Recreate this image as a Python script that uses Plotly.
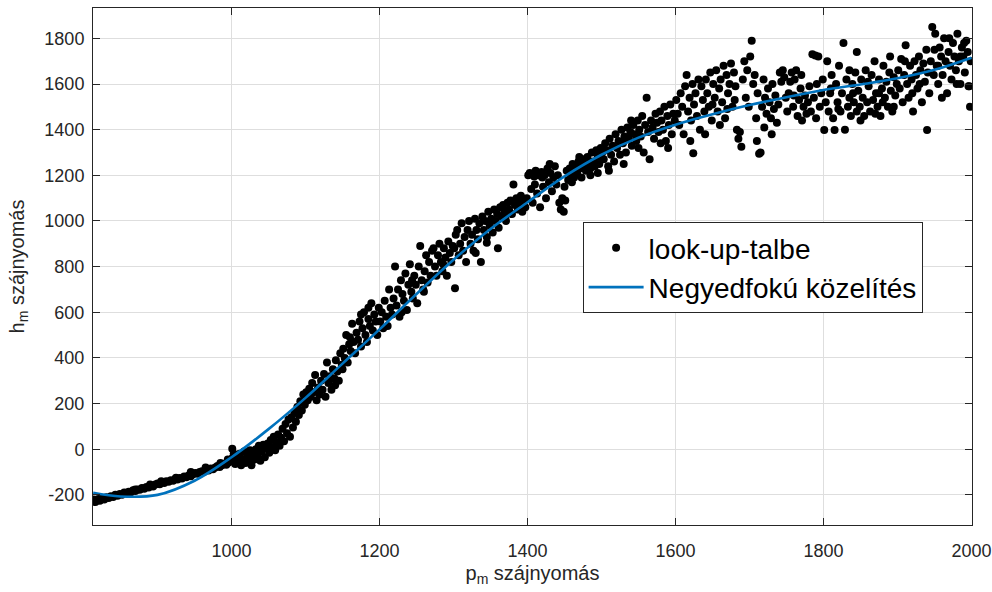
import plotly.graph_objects as go

# ---- data (p_m, h_m) ----
seg_0800_1000 = [(813,-228),(814,-220),(816,-231),(818,-224),(820,-218),(822,-226),(825,-215),(828,-220),(831,-210),(834,-214),(837,-206),(840,-209),(843,-200),(846,-204),(849,-196),(852,-199),(855,-190),(858,-193),(861,-186),(864,-189),(867,-180),(870,-183),(873,-176),(876,-178),(879,-170),(882,-173),(885,-165),(888,-168),(891,-160),(894,-163),(897,-155),(900,-150),(903,-153),(906,-145),(909,-148),(912,-140),(915,-143),(918,-136),(921,-138),(924,-130),(927,-133),(930,-126),(933,-128),(936,-120),(939,-123),(942,-115),(945,-118),(948,-110),(951,-104),(954,-108),(957,-100),(960,-96),(963,-99),(966,-90),(969,-93),(972,-85),(975,-88),(978,-80),(981,-74),(984,-78),(987,-70),(990,-64),(993,-68),(996,-58),(999,-50),(1001,-40),(1003,-20),(1001,2),(995,-45),(985,-60),(965,-80),(945,-100),(925,-125),(905,-140),(890,-155),(870,-176)]
seg_1000_1110 = [(1005,-65),(1007,-35),(1009,-55),(1011,-20),(1013,-70),(1015,-45),(1017,-10),(1019,-60),(1021,-30),(1023,-50),(1025,-5),(1027,-70),(1029,-25),(1031,-45),(1033,0),(1035,-30),(1037,15),(1039,-50),(1041,-10),(1043,20),(1045,-35),(1047,5),(1049,25),(1051,-15),(1053,40),(1055,10),(1057,55),(1059,-5),(1061,30),(1063,65),(1065,15),(1067,50),(1069,90),(1071,35),(1073,110),(1075,70),(1077,130),(1079,55),(1081,140),(1083,95),(1085,160),(1087,120),(1089,185),(1091,150),(1093,210),(1095,170),(1097,240),(1099,195),(1101,250),(1103,215),(1105,265),(1107,230),(1109,290)]
seg_1110_1200 = [(1111,250),(1113,325),(1115,215),(1117,270),(1119,240),(1121,300),(1123,260),(1125,330),(1127,230),(1129,380),(1131,290),(1133,320),(1135,260),(1137,350),(1139,310),(1141,390),(1143,340),(1145,300),(1147,420),(1149,370),(1151,440),(1153,400),(1155,500),(1157,380),(1159,460),(1161,430),(1163,550),(1165,470),(1167,420),(1169,510),(1171,480),(1173,560),(1175,450),(1177,530),(1179,600),(1181,500),(1183,470),(1185,570),(1187,540),(1189,640),(1191,520),(1193,590),(1195,560),(1197,500),(1199,620),(1185,620),(1175,590),(1160,490),(1150,350),(1140,280)]
seg_1200_1300 = [(1201,560),(1203,600),(1205,530),(1207,650),(1209,580),(1211,540),(1213,700),(1215,620),(1217,590),(1219,660),(1221,800),(1223,630),(1225,700),(1227,580),(1229,740),(1231,680),(1233,650),(1235,770),(1237,610),(1239,720),(1241,810),(1243,690),(1245,660),(1247,760),(1249,720),(1251,640),(1253,800),(1255,890),(1257,740),(1259,700),(1261,780),(1263,850),(1265,730),(1267,820),(1269,760),(1271,870),(1273,880),(1275,800),(1277,760),(1279,850),(1281,900),(1283,820),(1285,780),(1287,880),(1289,840),(1291,760),(1293,910),(1295,860),(1297,820),(1299,890),(1302,705),(1230,600),(1260,690),(1244,740),(1286,810)]
seg_1300_1400 = [(1301,880),(1303,940),(1305,960),(1307,850),(1309,900),(1311,990),(1313,870),(1315,930),(1317,820),(1319,960),(1321,1000),(1323,900),(1325,940),(1327,870),(1329,1010),(1331,960),(1333,920),(1335,990),(1337,820),(1339,1020),(1341,960),(1343,1000),(1345,930),(1347,1040),(1349,980),(1351,1010),(1353,950),(1355,1050),(1357,1000),(1359,1030),(1361,970),(1363,1060),(1365,1020),(1367,1070),(1369,1040),(1371,1000),(1373,1080),(1375,1050),(1377,1090),(1379,1030),(1381,1160),(1383,1070),(1385,1100),(1387,1050),(1389,1080),(1391,1110),(1393,1040),(1395,1090),(1397,1060),(1399,1100),(1360,880),(1345,905),(1370,1020),(1330,860)]
seg_1400_1500 = [(1401,1200),(1403,1210),(1405,1140),(1407,1080),(1409,1195),(1411,1220),(1413,1120),(1415,1200),(1417,1060),(1419,1215),(1421,1150),(1423,1200),(1425,1100),(1427,1230),(1429,1170),(1431,1210),(1433,1130),(1435,1190),(1437,1240),(1439,1160),(1441,1200),(1443,1080),(1445,1050),(1447,1100),(1449,1040),(1451,1090),(1453,1220),(1455,1180),(1457,1230),(1459,1200),(1461,1250),(1463,1190),(1465,1240),(1467,1210),(1469,1260),(1471,1230),(1473,1190),(1475,1270),(1477,1240),(1479,1220),(1481,1280),(1483,1250),(1485,1230),(1487,1300),(1489,1260),(1491,1240),(1493,1310),(1495,1280),(1497,1250),(1499,1320),(1410,1160),(1420,1190),(1430,1250),(1450,1150),(1460,1170),(1470,1280),(1485,1200),(1495,1210)]
seg_1500_1600 = [(1501,1300),(1503,1270),(1505,1340),(1507,1310),(1509,1240),(1511,1360),(1513,1290),(1515,1330),(1517,1260),(1519,1380),(1521,1320),(1523,1350),(1525,1290),(1527,1400),(1529,1340),(1531,1370),(1533,1300),(1535,1410),(1537,1360),(1539,1390),(1541,1330),(1543,1420),(1545,1380),(1547,1350),(1549,1440),(1551,1400),(1553,1370),(1555,1460),(1557,1300),(1559,1420),(1561,1540),(1563,1390),(1565,1270),(1567,1440),(1569,1410),(1571,1360),(1573,1470),(1575,1430),(1577,1390),(1579,1480),(1581,1440),(1583,1400),(1585,1500),(1587,1350),(1589,1460),(1591,1420),(1593,1510),(1595,1380),(1597,1470),(1599,1440),(1510,1220),(1530,1250),(1550,1320),(1540,1440),(1580,1340),(1590,1320)]
seg_1600_1700 = [(1601,1530),(1603,1470),(1605,1420),(1607,1560),(1609,1500),(1611,1380),(1613,1590),(1615,1640),(1617,1480),(1619,1540),(1621,1440),(1623,1600),(1624,1297),(1625,1510),(1627,1560),(1629,1460),(1631,1620),(1633,1400),(1635,1590),(1637,1530),(1639,1480),(1641,1620),(1643,1560),(1645,1500),(1647,1650),(1649,1440),(1651,1600),(1653,1540),(1655,1660),(1657,1480),(1659,1580),(1661,1620),(1663,1520),(1665,1680),(1667,1450),(1669,1640),(1671,1560),(1673,1600),(1675,1690),(1677,1500),(1679,1650),(1681,1590),(1683,1400),(1685,1360),(1687,1390),(1689,1325),(1691,1620),(1693,1700),(1695,1540),(1697,1660),(1699,1500),(1701,1720),(1703,1790),(1660,1420),(1640,1380),(1620,1350),(1670,1490),(1680,1530),(1650,1510)]
seg_1700_1800 = [(1705,1600),(1707,1640),(1709,1450),(1711,1560),(1713,1295),(1715,1300),(1717,1500),(1719,1620),(1721,1540),(1723,1470),(1725,1580),(1727,1520),(1729,1450),(1731,1600),(1733,1490),(1735,1550),(1737,1430),(1739,1510),(1741,1650),(1743,1610),(1745,1660),(1747,1630),(1749,1540),(1751,1480),(1753,1560),(1755,1610),(1757,1650),(1759,1500),(1761,1620),(1763,1660),(1765,1460),(1767,1530),(1769,1580),(1771,1440),(1773,1500),(1775,1550),(1777,1470),(1779,1520),(1781,1590),(1783,1480),(1785,1730),(1787,1540),(1789,1725),(1791,1600),(1793,1720),(1795,1500),(1797,1560),(1799,1620),(1720,1410),(1730,1380),(1710,1350),(1760,1550),(1790,1450),(1770,1640)]
seg_1800_1900 = [(1801,1398),(1803,1520),(1805,1700),(1807,1480),(1809,1560),(1811,1640),(1813,1450),(1815,1398),(1817,1600),(1819,1520),(1821,1680),(1823,1480),(1825,1560),(1827,1780),(1829,1400),(1831,1620),(1833,1500),(1835,1540),(1837,1460),(1839,1600),(1841,1520),(1843,1650),(1845,1480),(1847,1570),(1849,1500),(1851,1620),(1853,1540),(1855,1460),(1857,1660),(1859,1520),(1861,1590),(1863,1480),(1865,1640),(1867,1530),(1869,1700),(1871,1560),(1873,1500),(1875,1620),(1877,1460),(1879,1580),(1881,1680),(1883,1540),(1885,1610),(1887,1500),(1889,1650),(1891,1570),(1893,1480),(1895,1630),(1897,1550),(1899,1600),(1810,1580),(1820,1490),(1840,1560),(1850,1440),(1860,1610),(1870,1470),(1880,1520),(1890,1720),(1845,1740),(1835,1660),(1875,1560),(1895,1500)]
seg_1900_2000 = [(1901,1660),(1903,1580),(1905,1710),(1907,1520),(1909,1640),(1911,1770),(1913,1600),(1915,1540),(1917,1680),(1919,1620),(1921,1480),(1923,1700),(1925,1640),(1927,1580),(1929,1720),(1931,1660),(1933,1520),(1935,1690),(1937,1610),(1939,1750),(1940,1398),(1941,1650),(1943,1560),(1945,1700),(1947,1850),(1949,1640),(1951,1820),(1953,1680),(1955,1600),(1957,1760),(1959,1720),(1961,1640),(1963,1800),(1965,1700),(1967,1560),(1969,1740),(1971,1680),(1973,1620),(1975,1780),(1977,1720),(1979,1660),(1981,1820),(1983,1700),(1985,1600),(1987,1760),(1989,1720),(1991,1650),(1993,1790),(1995,1740),(1997,1590),(1999,1700),(1998,1500),(1996,1590),(1920,1560),(1930,1600),(1950,1750),(1960,1540),(1970,1800),(1980,1600),(1990,1780),(1910,1700),(1955,1680),(1985,1720)]

# fourth-order fit curve
fit_p = [813, 850, 900, 950, 1000, 1050, 1100, 1150, 1200, 1250, 1300, 1350, 1400,
         1450, 1500, 1550, 1600, 1650, 1700, 1750, 1800, 1850, 1900, 1950, 2000]
fit_h = [-191, -207, -200, -138, -35, 88, 225, 375, 525, 680, 830, 965, 1082,
         1195, 1290, 1365, 1422, 1468, 1508, 1542, 1574, 1598, 1625, 1662, 1715]

x_ticks = [1000, 1200, 1400, 1600, 1800, 2000]
y_ticks = [-200, 0, 200, 400, 600, 800, 1000, 1200, 1400, 1600, 1800]
x_tick_labels = ["1000", "1200", "1400", "1600", "1800", "2000"]
y_tick_labels = ["-200", "0", "200", "400", "600", "800", "1000", "1200", "1400", "1600", "1800"]

segments = [seg_0800_1000, seg_1000_1110, seg_1110_1200, seg_1200_1300, seg_1300_1400,
            seg_1400_1500, seg_1500_1600, seg_1600_1700, seg_1700_1800, seg_1800_1900,
            seg_1900_2000]
pts = [p for s in segments for p in s]
px = [p[0] for p in pts]
py = [p[1] for p in pts]

FONT = "Liberation Sans, Arial, Helvetica, sans-serif"
AX = "#262626"

fig = go.Figure()
fig.add_trace(go.Scatter(x=px, y=py, mode="markers", name="look-up-talbe",
                         marker=dict(color="black", size=8)))
fig.add_trace(go.Scatter(x=fit_p, y=fit_h, mode="lines", name="Negyedfokú közelítés",
                         line=dict(color="#0072BD", width=2.6, shape="spline", smoothing=1.0)))

axis_common = dict(showline=True, linecolor=AX, linewidth=1, mirror="ticks",
                   ticks="inside", ticklen=7, tickcolor=AX, tickwidth=1,
                   showgrid=True, gridcolor="#dedede", gridwidth=1, zeroline=False,
                   automargin=False, ticklabeloverflow="allow",
                   tickfont=dict(family=FONT, size=18, color=AX))

fig.update_xaxes(range=[812.8, 2000.7], tickvals=x_ticks, ticktext=x_tick_labels,
                 ticklabelstandoff=9,
                 title=dict(text="p<sub>m</sub> szájnyomás", font=dict(family=FONT, size=20, color=AX), standoff=6),
                 **axis_common)
fig.update_yaxes(range=[-332, 1933], tickvals=y_ticks, ticktext=y_tick_labels,
                 ticklabelstandoff=4,
                 title=dict(text="h<sub>m</sub> szájnyomás", font=dict(family=FONT, size=20, color=AX), standoff=14),
                 **axis_common)

fig.update_layout(
    width=992, height=592,
    margin=dict(l=93, r=20, t=8, b=67),
    plot_bgcolor="white", paper_bgcolor="white",
    font=dict(family=FONT, color=AX),
    showlegend=True,
    legend=dict(x=0.557, y=0.586, xanchor="left", yanchor="top",
                bgcolor="white", bordercolor=AX, borderwidth=1,
                font=dict(family=FONT, size=28, color="black"),
                itemwidth=55, tracegroupgap=0),
)

fig.write_html("out.html", config={"displayModeBar": False},
               post_script="document.body.style.margin='0';document.body.style.overflow='hidden';")
